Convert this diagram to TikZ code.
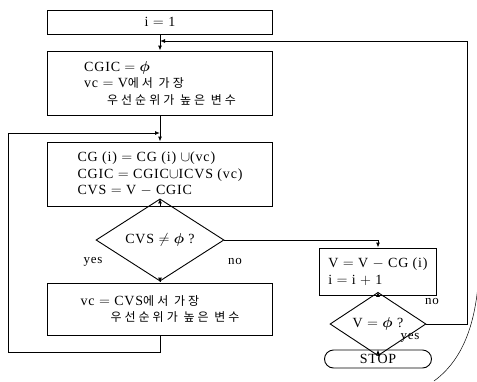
\documentclass[tikz,border=0pt]{standalone}
\usepackage{amsmath}
\usepackage{fontspec}
\setmainfont{Liberation Serif}[LetterSpace=6]
\newfontfamily\kr[LetterSpace=25]{Noto Sans CJK KR}
\newcommand{\krt}[1]{{\kr\fontsize{12}{16}\selectfont #1}}
\usetikzlibrary{shapes.geometric,arrows.meta}
\begin{document}
\begin{tikzpicture}[x=1pt,y=-1pt,line width=0.9pt,
  box/.style={draw,rectangle,minimum width=225pt,inner sep=0pt,align=left,font=\fontsize{14}{16.5}\selectfont},
  dia/.style={draw,diamond,inner sep=0pt,font=\fontsize{14}{16}\selectfont},
  lbl/.style={font=\fontsize{13}{13}\selectfont,inner sep=0pt},
  arr/.style={-{Latex[length=5pt,width=4pt]}}]
\useasboundingbox (0,0) rectangle (477,381);
\node[box,minimum height=24pt] (b1) at (160,22) {i $=$ 1};
\node[box,minimum height=64pt] (b2) at (160,83) {CGIC $=$ $\boldsymbol{\phi}$\\
vc $=$ V\krt{에서 가장}\\
\hspace*{23pt}\krt{우선순위가 높은 변수}};
\node[box,minimum height=64pt] (b3) at (160,174) {CG (i) $=$ CG (i) $\cup$(vc)\\
CGIC $=$ CGIC$\cup$ICVS (vc)\\
CVS $=$ V $-$ CGIC};
\node[dia,minimum width=128pt,minimum height=45pt] (d1) at (160,240) {CVS $\neq$ $\boldsymbol{\phi}$ ?};
\node[box,minimum height=52pt] (b5) at (160,309) {vc $=$ CVS\krt{에서 가장}\\
\hspace*{30pt}\krt{우선순위가 높은 변수}};
\node[box,minimum width=117pt,minimum height=47pt] (b4) at (378,271.5) {V $=$ V $-$ CG (i)\\ i $=$ i $+$ 1};
\node[dia,minimum width=96pt,minimum height=42pt] (d2) at (378,324) {V $=$ $\boldsymbol{\phi}$ ?};
\node[draw,rounded corners=9pt,minimum width=107pt,minimum height=18pt,inner sep=0pt,font=\fontsize{14}{15}\selectfont] (stop) at (378,359) {STOP};
\coordinate (j1) at (160,41);
\coordinate (j2) at (160,133);
\coordinate (r1) at (467,324);
\coordinate (r2) at (467,41);
\coordinate (l1) at (160,352);
\coordinate (l2) at (8,352);
\coordinate (l3) at (8,133);
\coordinate (n1) at (378,240);
\draw[arr] (b1) -- (b2);
\draw[arr] (d2.east) -- (r1) -- (r2) -- (j1);
\draw[arr] (b2) -- (b3);
\draw[arr] (b5.south) -- (l1) -- (l2) -- (l3) -- (j2);
\draw[arr] (b3) -- (d1);
\draw[arr] (d1) -- (b5);
\draw[arr] (d1.east) -- (n1) -- (b4.north);
\draw[arr] (b4) -- (d2);
\draw[arr] (d2) -- (stop);
\node[lbl] (yes1) at (93,262) {yes};
\node[lbl] (no1) at (235,261) {no};
\node[lbl] (no2) at (432,301) {no};
\node[lbl] (yes2) at (410,338) {yes};
\draw[line width=0.5pt,gray] (477,27) -- (477,117);
\draw[line width=0.5pt] (478,285) .. controls (474,330) and (460,362) .. (434,381);
\end{tikzpicture}
\end{document}
